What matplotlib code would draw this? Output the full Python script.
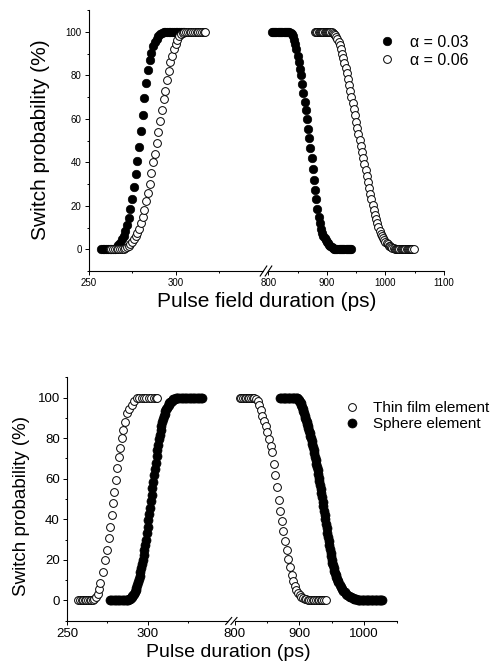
import matplotlib
matplotlib.use("Agg")
import matplotlib.pyplot as plt
from matplotlib.lines import Line2D
from matplotlib.ticker import FixedLocator

plt.rcParams['font.family'] = ['Liberation Sans', 'DejaVu Sans']

W, H = 494, 668

# ---------------- top panel data: pulse field duration (ps) vs switch probability (%)
a03_left_x = [257, 258, 259, 260, 261, 262, 263, 264, 265, 266, 267, 268, 269, 270,
              271, 272, 273, 274, 275, 276, 277, 278, 279, 280, 281, 282, 283, 284,
              285, 286, 287, 288, 289, 290, 291, 292, 293, 294, 295, 296, 297, 298,
              299, 300, 301, 302, 303, 304, 305]
a03_left_y = [0, 0, 0, 0, 0, 0, 0, 0, 0.3, 1, 2, 3, 4.5, 6,
              8.5, 11, 14.5, 18.5, 23, 28.5, 34.5, 40.5, 47, 54.5, 62, 69.5, 76.5, 82.5,
              87, 90.5, 93.5, 95.5, 97, 98, 99, 99.5, 100, 100, 100, 100, 100, 100,
              100, 100, 100, 100, 100, 100, 100]

a06_left_x = [262, 263, 264, 265, 266, 267, 268, 269, 270, 271, 272, 273, 274, 275,
              276, 277, 278, 279, 280, 281, 282, 283, 284, 285, 286, 287, 288, 289,
              290, 291, 292, 293, 294, 295, 296, 297, 298, 299, 300, 301, 302, 303,
              304, 305, 306, 307, 308, 309, 310, 311, 312, 313, 314, 315, 316, 317]
a06_left_y = [0, 0, 0, 0, 0, 0, 0, 0, 0, 0.5, 1, 1.5, 2.5, 3.5,
              4.5, 6, 7.5, 9.5, 12, 15, 18, 22, 26, 30, 35, 40, 44, 49,
              54, 59, 64, 69, 73, 78, 82, 86, 89, 92, 94.5, 96.5, 98, 99,
              99.5, 100, 100, 100, 100, 100, 100, 100, 100, 100, 100, 100, 100, 100]

a03_right_x = [806, 808, 810, 812, 814, 816, 818, 820, 822, 824, 826, 828, 830, 832,
               834, 836, 838, 840, 842, 844, 846, 848, 850, 852, 854, 856, 858, 860,
               862, 864, 866, 868, 870, 872, 874, 876, 878, 880, 882, 884, 886, 888,
               890, 892, 894, 896, 898, 900, 902, 904, 906, 908, 910, 912, 914, 916,
               918, 920, 922, 924, 926, 928, 930, 932, 934, 936, 938, 940, 942]
a03_right_y = [100, 100, 100, 100, 100, 100, 100, 100, 100, 100, 100, 100, 100, 100,
               100, 100, 99.5, 99, 98, 96.5, 94.5, 92, 89, 86, 83, 80, 76, 72,
               68, 64, 60, 55.5, 51, 46.5, 42, 37, 32, 27.5, 23, 18.5, 15, 12,
               9.5, 7.5, 6, 5, 4.3, 3.5, 2.7, 2, 1.5, 1, 0.6, 0.3, 0, 0,
               0, 0, 0, 0, 0, 0, 0, 0, 0, 0, 0, 0, 0]

a06_right_x = [880, 882, 884, 886, 888, 890, 892, 894, 896, 898, 900, 902, 904, 906,
               908, 910, 912, 914, 916, 918, 920, 922, 924, 926, 928, 930, 932, 934,
               936, 938, 940, 942, 944, 946, 948, 950, 952, 954, 956, 958, 960, 962,
               964, 966, 968, 970, 972, 974, 976, 978, 980, 982, 984, 986, 988, 990,
               992, 994, 996, 998, 1000, 1002, 1004, 1006, 1008, 1010, 1012, 1014, 1016, 1018,
               1020, 1022, 1024, 1026, 1028, 1030, 1032, 1034, 1036, 1038, 1040, 1042, 1044, 1046,
               1048]
a06_right_y = [100, 100, 100, 100, 100, 100, 100, 100, 100, 100, 100, 100, 100, 100,
               99.8, 99.5, 99.1, 98.5, 97.7, 96.6, 95.3, 93.8, 92, 90, 88, 85.8, 83.5, 81,
               78.5, 75.8, 73, 70, 67.2, 64.4, 61.6, 58.8, 56, 53.2, 50.4, 47.6, 44.8, 42,
               39.2, 36.4, 33.6, 30.8, 28, 25.4, 23, 20.5, 18, 16, 14, 12, 10.2, 8.6,
               7.2, 6, 5, 4.1, 3.4, 2.8, 2.2, 1.7, 1.3, 1, 0.7, 0.5, 0.3, 0.2,
               0, 0, 0, 0, 0, 0, 0, 0, 0, 0, 0, 0, 0, 0,
               0]

# ---------------- bottom panel data: pulse duration (ps) vs switch probability (%)
tf_left_x = [257, 258, 259, 260, 261, 262, 263, 264, 265, 266, 267, 268, 269, 269.8,
             270.5, 272.3, 273.8, 275.0, 276.0, 276.9, 277.8, 278.6, 279.4, 280.3, 281.1,
             282.0, 282.9, 283.9, 284.9, 286.1, 287.5, 288.6, 290, 291.5, 293.2, 294.7,
             296.2, 297.7, 299.2, 300.7, 302.2, 303.7, 305, 306]
tf_left_y = [0, 0, 0, 0, 0, 0, 0, 0, 0, 0.2, 0.5, 1.5, 3, 5.5,
             8.4, 14.1, 19.9, 24.8, 30.6, 36.3, 42.1, 47.9, 53.6, 59.4, 65.2,
             70.9, 75, 80, 84, 88.2, 92.3, 94.5, 96.4, 98.5, 99.7, 100,
             100, 100, 100, 100, 100, 100, 100, 100]

sp_left_x = [276.5, 277.5, 278.5, 279.5, 280.5, 281.5, 282.5, 283.5, 284.5, 285.5, 286.5, 287.5,
             288, 288.5, 289, 289.5, 290, 290.5, 291, 291.5, 292, 292.5,
             293, 293.5, 294, 294.5, 295, 295.5, 296, 296.5, 297, 297.5,
             298, 298.5, 299, 299.5, 300, 300.5, 301, 301.5, 302, 302.5,
             303, 303.5, 304, 304.5, 305, 305.5, 306, 306.5, 307, 307.5,
             308, 308.5, 309, 309.5, 310, 310.5, 311, 311.5, 312, 312.5,
             313, 313.5, 314, 314.5, 315, 315.5, 316, 316.5, 317, 317.5, 318,
             319, 320, 321, 322, 323, 324, 325, 326, 327, 328, 329, 330, 331, 332, 333, 334]
sp_left_y = [0, 0, 0, 0, 0, 0, 0, 0, 0, 0, 0, 0.1,
             0.3, 0.5, 0.8, 1.1, 1.5, 2, 2.6, 3.3, 4.1, 5,
             6.2, 7.4, 8.8, 10.4, 12.1, 13.9, 15.8, 17.8, 20, 22.3,
             24.6, 27.1, 29.8, 33, 36.2, 39.4, 42.6, 45.8, 49, 52.2,
             55.4, 58.6, 61.8, 65, 68, 71, 74, 76.8, 79.4, 81.8,
             84, 86, 87.8, 89.4, 90.8, 92.1, 93.2, 94.2, 95.1, 95.9,
             96.6, 97.2, 97.7, 98.1, 98.5, 98.8, 99.1, 99.3, 99.5, 99.7, 99.8,
             100, 100, 100, 100, 100, 100, 100, 100, 100, 100, 100, 100, 100, 100, 100, 100]

tf_right_x = [808, 810.5, 813, 815.5, 818, 820.5, 823, 825.5, 828,
              830.5, 833, 835.5, 838, 840.5, 843, 845.5, 848, 850.5, 853,
              855.5, 858, 860.5, 863, 865.5, 868, 870.5, 873, 875.5, 878,
              880.5, 883, 885.5, 888, 890.5, 893, 895.5, 898, 900.5, 903,
              905.5, 908, 910.5, 913, 915.5,
              918, 920.5, 923, 925.5, 928, 930.5, 933, 935.5, 938, 940.5]
tf_right_y = [100, 100, 100, 100, 100, 100, 100, 100, 100,
              99.8, 99.3, 98.2, 96.3, 93.8, 91.2, 88.6, 86, 83.2, 79.5,
              76.2, 73, 67.5, 62, 55.8, 49.6, 44, 39, 34.2, 29.5,
              24.7, 20.6, 16.6, 12.6, 9.3, 6.9, 5, 3.6, 2.6, 1.8,
              1.2, 0.8, 0.5, 0.3, 0.1,
              0, 0, 0, 0, 0, 0, 0, 0, 0, 0]

sp_right_x = [870, 872, 874, 876, 878, 880, 882, 884, 886, 888, 890, 892, 894,
              896, 897, 898, 899, 900, 901, 902, 903, 904, 905, 906, 907, 908, 909, 910,
              911, 912, 913, 914, 915, 916, 917, 918, 919, 920, 921, 922, 923, 924, 925,
              926, 927, 928, 929, 930, 931, 932, 933, 934, 935, 936, 937, 938, 939, 940,
              941, 942, 943, 944, 945, 946, 947, 948, 949, 950, 951, 952, 953, 954, 955,
              956, 957, 958, 959, 960,
              962, 964, 966, 968, 970, 972, 974, 976, 978, 980, 982, 984, 986, 988, 990,
              992, 994, 996, 998, 1000, 1002, 1004, 1006, 1008, 1010, 1012, 1014, 1016,
              1018, 1020, 1022, 1024, 1026, 1028]
sp_right_y = [100, 100, 100, 100, 100, 100, 100, 100, 100, 100, 100, 100, 100,
              99.9, 99.7, 99.4, 99, 98.5, 97.9, 97.2, 96.4, 95.5, 94.5, 93.4, 92.2, 91, 90, 89,
              88, 86.9, 85.9, 84.8, 83.7, 82.6, 81.3, 80, 78.6, 77.1, 75.6, 74.1, 72.5, 70.9, 69.2,
              67.5, 65.8, 64.1, 62.3, 60.5, 58.7, 56.8, 54.9, 52.9, 50.8, 48.7, 46.5, 44.3, 42.1, 39.9,
              37.7, 35.5, 33.3, 31.2, 29.1, 27.1, 25.2, 23.4, 21.7, 20.1, 18.6, 17.2, 15.9, 14.7, 13.6,
              12.5, 11.5, 10.6, 9.7, 8.9,
              7.6, 6.5, 5.5, 4.6, 3.9, 3.2, 2.7, 2.2, 1.8, 1.5, 1.2, 0.9, 0.7, 0.5, 0.4,
              0.3, 0.2, 0.1, 0, 0, 0, 0, 0, 0, 0, 0, 0, 0,
              0, 0, 0, 0, 0, 0]

y_major = [0, 20, 40, 60, 80, 100]
y_minor = [-10, 10, 30, 50, 70, 90, 110]


def px_rect(x0, x1, ytop, ybot):
    return [x0 / W, 1 - ybot / H, (x1 - x0) / W, (ybot - ytop) / H]


def style_pair(axl, axr, xlim_l, xlim_r, maj_l, min_l, maj_r, min_r, fs):
    for ax in (axl, axr):
        ax.set_ylim(-10, 110)
        ax.spines['top'].set_visible(False)
        ax.spines['right'].set_visible(False)
        for s in ax.spines.values():
            s.set_linewidth(0.8)
        ax.tick_params(which='major', direction='out', length=2.6, width=0.7,
                       labelsize=fs, pad=2.5)
        ax.tick_params(which='minor', direction='out', length=1.5, width=0.7)
    axl.set_xlim(*xlim_l)
    axr.set_xlim(*xlim_r)
    axl.xaxis.set_major_locator(FixedLocator(maj_l))
    axl.xaxis.set_minor_locator(FixedLocator(min_l))
    axr.xaxis.set_major_locator(FixedLocator(maj_r))
    axr.xaxis.set_minor_locator(FixedLocator(min_r))
    axl.yaxis.set_major_locator(FixedLocator(y_major))
    axl.yaxis.set_minor_locator(FixedLocator(y_minor))
    axr.spines['left'].set_visible(False)
    axr.tick_params(axis='y', which='both', left=False, labelleft=False)


def break_marks(cx1, cx2, cy, dx, dy):
    for cx in (cx1, cx2):
        fig.add_artist(Line2D([(cx - dx) / W, (cx + dx) / W],
                              [1 - (cy + dy) / H, 1 - (cy - dy) / H],
                              color='black', lw=0.8, transform=fig.transFigure))


fig = plt.figure(figsize=(W / 100, H / 100), dpi=100)

# ---------------- top panel
ax1l = fig.add_axes(px_rect(88.7, 262.7, 10.3, 271))
ax1r = fig.add_axes(px_rect(268.3, 444, 10.3, 271), sharey=ax1l)
style_pair(ax1l, ax1r, (250, 350), (800, 1100),
           [250, 300], [275, 325], [800, 900, 1000, 1100], [850, 950, 1050], 7)

for ax, (xf, yf, xo, yo) in ((ax1l, (a03_left_x, a03_left_y, a06_left_x, a06_left_y)),
                             (ax1r, (a03_right_x, a03_right_y, a06_right_x, a06_right_y))):
    h03, = ax.plot(xf, yf, 'o', ms=6.1, mfc='black', mec='black', mew=0.5, ls='none')
    h06, = ax.plot(xo, yo, 'o', ms=5.6, mfc='white', mec='black', mew=0.7, ls='none')
    for ln in (h03, h06):
        ln.set_clip_on(False)

break_marks(263.5, 268.5, 271, 3.3, 5)

fig.legend([h03, h06], ['\u03b1 = 0.03', '\u03b1 = 0.06'], loc='center left',
           bbox_to_anchor=(379.5 / W, 1 - 51.3 / H), frameon=False, fontsize=11.5,
           handlelength=1.0, handletextpad=0.9, labelspacing=0.22, borderpad=0,
           borderaxespad=0, numpoints=1)

fig.text(40 / W, 1 - 140 / H, 'Switch probability (%)', rotation=90,
         ha='center', va='center', fontsize=15)
fig.text(267 / W, 1 - 292 / H, 'Pulse field duration (ps)',
         ha='center', va='top', fontsize=15)

# ---------------- bottom panel
ax2l = fig.add_axes(px_rect(67, 228.3, 377.4, 620.6))
ax2r = fig.add_axes(px_rect(234.5, 396.7, 377.4, 620.6), sharey=ax2l)
style_pair(ax2l, ax2r, (250, 350), (800, 1050),
           [250, 300], [275, 325], [800, 900, 1000], [850, 950, 1050], 9.5)

for ax, (xo, yo, xf, yf) in ((ax2l, (tf_left_x, tf_left_y, sp_left_x, sp_left_y)),
                             (ax2r, (tf_right_x, tf_right_y, sp_right_x, sp_right_y))):
    htf, = ax.plot(xo, yo, 'o', ms=5.6, mfc='white', mec='black', mew=0.7, ls='none')
    hsp, = ax.plot(xf, yf, 'o', ms=6.5, mfc='black', mec='black', mew=0.5, ls='none')
    for ln in (htf, hsp):
        ln.set_clip_on(False)

break_marks(228.7, 234, 621, 3, 3.5)

fig.legend([htf, hsp], ['Thin film element', 'Sphere element'], loc='center left',
           bbox_to_anchor=(344 / W, 1 - 416.2 / H), frameon=False, fontsize=11,
           handlelength=1.0, handletextpad=0.9, labelspacing=0.15, borderpad=0,
           borderaxespad=0, numpoints=1)

fig.text(22 / W, 1 - 506 / H, 'Switch probability (%)', rotation=90,
         ha='center', va='center', fontsize=13.5)
fig.text(228.5 / W, 1 - 644 / H, 'Pulse duration (ps)',
         ha='center', va='top', fontsize=14)

fig.savefig('out.png', dpi=100)
